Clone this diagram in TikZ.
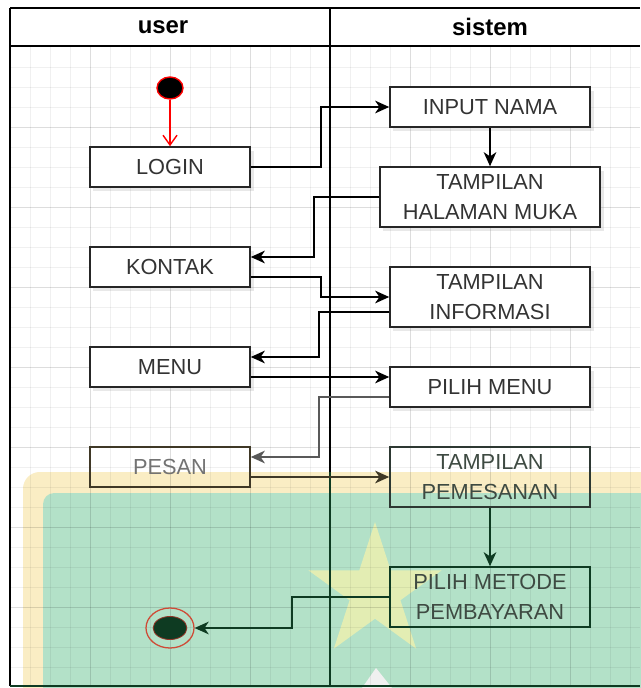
\documentclass[tikz,border=0pt]{standalone}
\usepackage{fontspec}
\setmainfont{Liberation Sans}
\usepackage{tikz}
\usepackage{xcolor}
\usetikzlibrary{arrows.meta,calc,shadows,shapes.geometric}

\definecolor{boxtext}{HTML}{333333}
\definecolor{sandy}{HTML}{FAEDC4}
\definecolor{leaf}{HTML}{B3E1C8}
\definecolor{starlight}{HTML}{F4F2AC}
\definecolor{deepgreen}{HTML}{0E3B22}
\definecolor{fadedtext}{HTML}{3E4A42}
\definecolor{mud}{HTML}{3F3826}
\definecolor{ring}{HTML}{CF4A36}

\newcommand{\boxfont}{\fontsize{15.5}{21}\selectfont}

\begin{document}
\begin{tikzpicture}[x=0.025cm,y=-0.025cm,
  lane/.style={font=\fontsize{17}{20}\selectfont\bfseries},
  frame/.style={line width=1.1pt},
  box/.style={rectangle,draw=black!85,line width=1.1pt,fill=white,text=boxtext,font=\boxfont,align=center,
    minimum height=1cm,inner sep=2pt,drop shadow={opacity=0.18,shadow xshift=2.5pt,shadow yshift=-2.5pt}},
  fadedbox/.style={rectangle,line width=1.1pt,fill=none,text=fadedtext,font=\boxfont,align=center,
    minimum height=1cm,inner sep=2pt},
  conn/.style={line width=1.1pt,-{Stealth[length=10pt,width=9pt,inset=3pt]}}]

\useasboundingbox (0,0) rectangle (640,688);
\fill[white] (0,0) rectangle (640,688);

\fill[sandy, rounded corners=12pt] (23,472) rectangle (680,720);
\fill[leaf, rounded corners=8pt] (43,493) rectangle (680,720);
\fill[starlight, opacity=0.75, shift={(375,592)}] (-90:70)
  \foreach \i in {1,...,9} { -- ({-90+36*\i}:{70-43.3*mod(\i,2)}) } -- cycle;
\fill[white!88!gray] (362,688) -- (376,668) -- (392,688) -- cycle;

\foreach \x in {30,50,...,630} \draw[black, opacity=0.06] (\x,47) -- (\x,686);
\foreach \y in {67,87,...,667} \draw[black, opacity=0.06] (10,\y) -- (640,\y);
\foreach \x in {90,170,...,570} \draw[black, opacity=0.08] (\x,47) -- (\x,686);
\foreach \y in {127,207,...,607} \draw[black, opacity=0.08] (10,\y) -- (640,\y);

\draw[frame] (10,8) -- (640,8);
\draw[frame] (10,46) -- (640,46);
\draw[frame] (10,8) -- (10,686);
\draw[frame] (330,8) -- (330,472);
\draw[frame, deepgreen] (330,472) -- (330,686);
\draw[frame, deepgreen] (10,686) -- (640,686);

\node[lane] (u) at (163,27) {user};
\node[lane] (s) at (490,27) {sistem};

\node[ellipse, fill=black, draw=red, line width=1pt, minimum width=0.65cm, minimum height=0.55cm, inner sep=0pt] (0) at (170,88) {};

\node[box, minimum width=4cm] (1) at (170,167) {LOGIN};
\node[box, minimum width=5cm] (2) at (490,107) {INPUT NAMA};
\node[box, minimum width=5.5cm, minimum height=1.5cm] (3) at (490,197) {TAMPILAN\\HALAMAN MUKA};
\node[box, minimum width=4cm] (4) at (170,267) {KONTAK};
\node[box, minimum width=5cm, minimum height=1.5cm] (5) at (490,297) {TAMPILAN\\INFORMASI};
\node[box, minimum width=4cm] (6) at (170,367) {MENU};
\node[box, minimum width=5cm] (7) at (490,387) {PILIH MENU};

\node[fadedbox, draw=mud, text=black!55, minimum width=4cm] (8) at (170,467) {PESAN};
\node[fadedbox, draw=black!75!leaf, minimum width=5cm, minimum height=1.5cm] (9) at (490,477) {TAMPILAN\\PEMESANAN};
\node[fadedbox, draw=deepgreen, minimum width=5cm, minimum height=1.5cm] (10) at (490,597) {PILIH METODE\\PEMBAYARAN};

\node[ellipse, draw=ring, line width=0.9pt, minimum width=1.2cm, minimum height=1cm, inner sep=0pt] (11) at (170,628) {};
\filldraw[fill=deepgreen, draw=ring!70!black, line width=0.6pt] (11.center) ellipse [x radius=12pt, y radius=8.2pt];

\draw[red, line width=1pt, -{Straight Barb[length=7pt,width=10pt]}] (0.south) -- (1.north);

\draw[conn] (1.east) -- ++(70,0) |- (2.west);
\draw[conn] (2.south) -- (3.north);
\draw[conn] (3.west) -- ++(-65,0) |- ($(4.east)+(0,-10)$);
\draw[conn] ($(4.east)+(0,10)$) -- ++(70,0) |- (5.west);
\draw[conn] ($(5.west)+(0,15)$) -- ++(-70,0) |- ($(6.east)+(0,-10)$);
\draw[conn] ($(6.east)+(0,10)$) -- ($(7.west)+(0,-10)$);
\draw[conn, black!65] ($(7.west)+(0,10)$) -- ++(-70,0) |- ($(8.east)+(0,-10)$);
\draw[conn, mud] ($(8.east)+(0,10)$) -- (9.west);
\draw[conn, deepgreen] (9.south) -- (10.north);
\draw[conn, deepgreen] (10.west) -- ++(-97,0) |- (11.east);

\end{tikzpicture}
\end{document}
